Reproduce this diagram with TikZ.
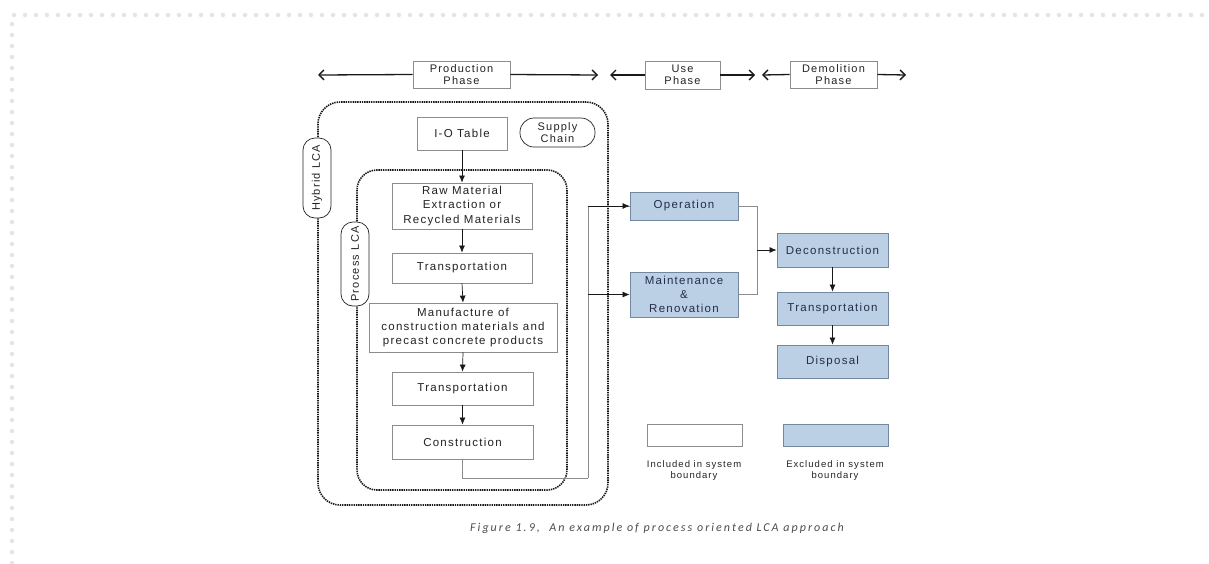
\documentclass[tikz,border=0pt]{standalone}
\usepackage{fontspec}
\setmainfont{Liberation Sans}
\newfontfamily\capfont[LetterSpace=17]{Carlito}
\newfontfamily\boxfont[LetterSpace=11]{Liberation Sans}
\usetikzlibrary{arrows.meta}
\definecolor{pagedot}{RGB}{232,226,226}
\definecolor{boxline}{RGB}{140,140,140}
\definecolor{bluefill}{RGB}{188,208,229}
\definecolor{blueline}{RGB}{115,135,160}
\definecolor{txt}{RGB}{35,35,35}
\definecolor{bluetxt}{RGB}{35,45,75}
\tikzset{
  procbox/.style={draw=boxline, line width=0.8pt, fill=white, align=center, inner sep=1pt,
    font=\boxfont\fontsize{11.5}{14.5}\selectfont, text=txt},
  bluebox/.style={draw=blueline, line width=0.8pt, fill=bluefill, align=center, inner sep=1pt,
    font=\boxfont\fontsize{11.5}{14}\selectfont, text=bluetxt},
  phasebox/.style={draw=boxline, line width=0.8pt, fill=white, align=center, inner sep=1pt,
    font=\boxfont\fontsize{11}{12.5}\selectfont, text=txt},
  pill/.style={draw=txt, line width=0.7pt, fill=white, rounded corners=12pt, align=center,
    inner sep=1pt, font=\boxfont\fontsize{11}{12.5}\selectfont, text=txt},
  lcabox/.style={draw=black!90, line width=1.6pt, dash pattern=on 1.4pt off 0.9pt, rounded corners=22pt},
  phasearrow/.style={line width=1.3pt, draw=black!90, -{Straight Barb[length=5pt,width=10pt,line width=1.4pt]}},
  flow/.style={line width=0.7pt, draw=black!90, -{Latex[length=7pt,width=6pt]}},
  feed/.style={line width=0.7pt, draw=black!45},
  legtxt/.style={align=center, font=\boxfont\fontsize{9.5}{11}\selectfont, text=txt},
}
\begin{document}
\begin{tikzpicture}[x=1pt,y=-1pt]
\useasboundingbox (0,0) rectangle (1209,563);
% page border
\draw[pagedot, line width=4.5pt, line cap=round, dash pattern=on 0pt off 11pt] (12,563) -- (12,15) -- (1209,15);

% phase headers
\node[phasebox, minimum width=97pt, minimum height=27pt] (prod) at (461.5,74.5) {Production\\Phase};
\node[phasebox, minimum width=75pt, minimum height=28pt] (use) at (682.5,75) {Use\\Phase};
\node[phasebox, minimum width=87pt, minimum height=27pt] (demo) at (833.5,74.5) {Demolition\\Phase};
\coordinate (pl) at (318,75);
\coordinate (pr) at (598,75);
\coordinate (ul) at (610,75);
\coordinate (ur) at (755,75);
\coordinate (dl) at (762,75);
\coordinate (dr) at (906,75);
\draw[phasearrow] (prod.west) -- (pl);
\draw[phasearrow] (prod.east) -- (pr);
\draw[phasearrow] (use.west) -- (ul);
\draw[phasearrow] (use.east) -- (ur);
\draw[phasearrow] (demo.west) -- (dl);
\draw[phasearrow] (demo.east) -- (dr);

% LCA boundaries
\draw[lcabox] (318,102) rectangle (608,505);
\draw[lcabox, rounded corners=20pt] (357,170) rectangle (567,490);
\node[pill, rotate=90, minimum width=80pt, minimum height=28pt] (hyb) at (317,178) {Hybrid LCA};
\node[pill, rotate=90, minimum width=84pt, minimum height=28pt] (plca) at (355,264) {Process LCA};

% production chain
\node[procbox, minimum width=90pt, minimum height=33pt] (iot) at (462,133.5) {I-O Table};
\node[pill, minimum width=75pt, minimum height=29pt, rounded corners=14pt] (sup) at (557.5,132.5) {Supply\\Chain};
\node[procbox, minimum width=140pt, minimum height=46pt] (raw) at (462,206) {Raw Material\\Extraction or\\Recycled Materials};
\node[procbox, minimum width=140pt, minimum height=30pt] (tr1) at (462,268) {Transportation};
\node[procbox, minimum width=188pt, minimum height=49pt, font=\boxfont\fontsize{11.5}{14}\selectfont] (man) at (463,327.5) {Manufacture of\\construction materials and\\precast concrete products};
\node[procbox, minimum width=141pt, minimum height=33pt] (tr2) at (462.5,388.5) {Transportation};
\node[procbox, minimum width=141pt, minimum height=34pt] (con) at (462.5,442) {Construction};
\draw[flow] (iot.south) -- (raw.north);
\draw[flow] (raw.south) -- (tr1.north);
\draw[flow] (tr1.south) -- (man.north);
\draw[flow] (man.south) -- (tr2.north);
\draw[flow] (tr2.south) -- (con.north);

% use phase
\node[bluebox, minimum width=108pt, minimum height=28pt] (op) at (684,206) {Operation};
\node[bluebox, minimum width=108pt, minimum height=45pt] (mr) at (684,294.5) {Maintenance\\\&\\Renovation};
\coordinate (j1) at (588,478);
\draw[feed] (con.south) |- (j1);
\draw[feed] (j1) |- (op.west);
\draw[flow] (j1 |- op.west) -- (op.west);
\draw[flow] (j1 |- mr.west) -- (mr.west);

% demolition phase
\node[bluebox, minimum width=111pt, minimum height=34pt] (dec) at (832.5,250) {Deconstruction};
\node[bluebox, minimum width=111pt, minimum height=33pt] (tr3) at (832.5,308.5) {Transportation};
\node[bluebox, minimum width=111pt, minimum height=33pt] (dis) at (832.5,361.5) {Disposal};
\coordinate (j2) at (757,250);
\draw[feed] (op.east) -| (j2);
\draw[feed] (mr.east) -| (j2);
\draw[flow] (j2) -- (dec.west);
\draw[flow] (dec.south) -- (tr3.north);
\draw[flow] (tr3.south) -- (dis.north);

% legend
\node[procbox, minimum width=95pt, minimum height=22pt] (inc) at (694.5,435) {};
\node[bluebox, minimum width=105pt, minimum height=22pt] (exc) at (835.5,435) {};
\node[legtxt] (inct) at (694,471) {Included in system\\boundary};
\node[legtxt] (exct) at (835,471) {Excluded in system\\boundary};

% caption
\node[font=\capfont\itshape\fontsize{12}{14}\selectfont, text=black!70] (cap) at (657,528) {Figure 1.9,\ \ An example of process oriented LCA approach};
\end{tikzpicture}
\end{document}
